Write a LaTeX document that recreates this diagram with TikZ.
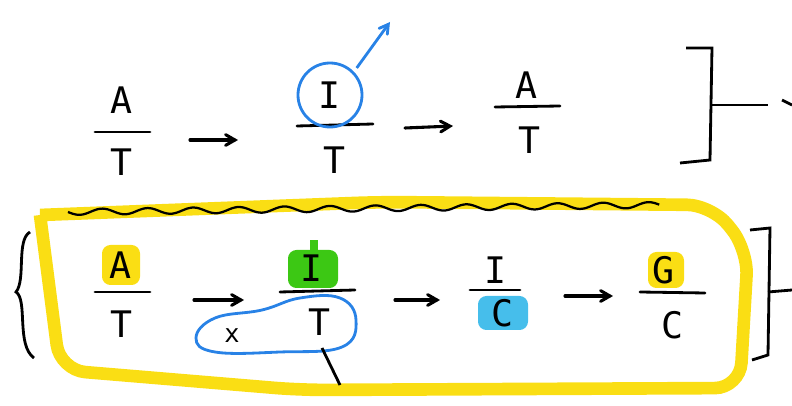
\documentclass[tikz,border=0pt]{standalone}
\usepackage{fontspec}
\setmainfont{DejaVu Sans Mono}
\usetikzlibrary{arrows}
\definecolor{hlyellow}{RGB}{250,222,20}
\definecolor{hlgreen}{RGB}{60,200,20}
\definecolor{hlcyan}{RGB}{70,190,235}
\definecolor{penblue}{RGB}{40,130,230}
\tikzstyle{letter} = [font=\fontsize{26}{26}\selectfont, inner sep=1pt]
\tikzstyle{bar} = [line width=2pt, line cap=round]
\tikzstyle{arrow} = [line width=2.2pt,->,>=angle 60, line cap=round, line join=round]
\tikzstyle{frac} = [minimum width=1.6cm, minimum height=1.8cm]
\begin{document}
\begin{tikzpicture}[x=0.025cm, y=-0.025cm]
\useasboundingbox (0,0) rectangle (792,406);

% highlights
\fill [hlyellow, rounded corners=6pt] (102,245) rectangle (140,285);
\fill [hlgreen, rounded corners=6pt] (288,250) rectangle (338,288);
\fill [hlgreen] (310,240) rectangle (318,252);
\fill [hlcyan, rounded corners=6pt] (478,296) rectangle (528,330);
\fill [hlyellow, rounded corners=6pt] (648,252) rectangle (684,288);

% top row
\node [letter] (a1) at (122,100) {A};
\node [letter] (t1) at (122,162) {T};
\draw [bar] (95,132) -- (150,132);
\node [frac] (f1) at (122,132) {};
\node [letter] (i2) at (330,95) {I};
\node [letter] (t2) at (335,160) {T};
\draw [bar] (297,126) -- (373,124);
\node [frac] (f2) at (335,128) {};
\node [letter] (a3) at (527,85) {A};
\node [letter] (t3) at (530,140) {T};
\draw [bar] (495,107) -- (560,106);
\node [frac] (f3) at (527,112) {};
\draw [penblue, line width=2pt] (i2) circle [radius=32];
\coordinate (away) at (390,22);
\draw [penblue, line width=2pt, ->, >=angle 60] (i2.north east) ++(14,-12) -- (away);
\draw [arrow] (f1) ++(68,8) -- ++(48,0);
\draw [arrow] (f2) ++(70,0) -- ++(48,-2);
\draw [line width=2pt] (680,163) -- (710,160) -- (712,48) -- (686,48);
\draw [line width=2pt] (712,105) -- (768,105);
\draw [line width=2pt] (782,100) -- (792,105);

% big yellow loop
\draw [hlyellow, line width=9pt, rounded corners=18pt] (40,215) -- (60,370) -- (300,390) -- (740,388) -- (748,250) -- (712,205) -- (380,202) -- (40,215);

% wavy line
\draw [line width=1.6pt, domain=0:1, samples=120, smooth] plot ({68+592*\x}, {212-7*\x+3*sin(\x*13*360)});

% bottom row
\node [letter] (a4) at (121,265) {A};
\node [letter] (t4) at (122,324) {T};
\draw [bar] (95,292) -- (150,292);
\node [frac] (f4) at (122,294) {};
\node [letter] (i5) at (312,268) {I};
\node [letter] (t5) at (320,322) {T};
\draw [bar] (280,292) -- (355,290);
\node [frac] (f5) at (315,294) {};
\node [letter] (i6) at (496,270) {I};
\node [letter] (c6) at (503,313) {C};
\draw [bar] (470,290) -- (520,290);
\node [frac] (f6) at (497,292) {};
\node [letter] (g7) at (664,270) {G};
\node [letter] (c7) at (673,325) {C};
\draw [bar] (640,292) -- (705,293);
\node [frac] (f7) at (672,294) {};
\draw [arrow] (f4) ++(72,6) -- ++(50,0);
\draw [arrow] (f5) ++(80,6) -- ++(45,0);
\draw [arrow] (f6) ++(68,4) -- ++(48,0);

% crossed-out x and its loop
\node [font=\fontsize{18}{18}\selectfont] (x5) at (232,336) {x};
\draw [penblue, line width=2pt] plot [smooth cycle, tension=0.7] coordinates {(196,338) (215,318) (262,310) (300,298) (340,298) (356,320) (342,347) (280,352) (215,352)};
\coordinate (tail) at (340,385);
\draw [line width=2pt] (322,348) -- (tail);

% side brackets
\draw [line width=2pt] (30,232) .. controls (16,240) and (26,280) .. (16,292) .. controls (28,300) and (16,345) .. (34,358);
\draw [line width=2pt] (750,230) -- (770,228) -- (768,355) -- (752,360);
\draw [line width=2pt] (768,292) -- (792,290);
\end{tikzpicture}
\end{document}
